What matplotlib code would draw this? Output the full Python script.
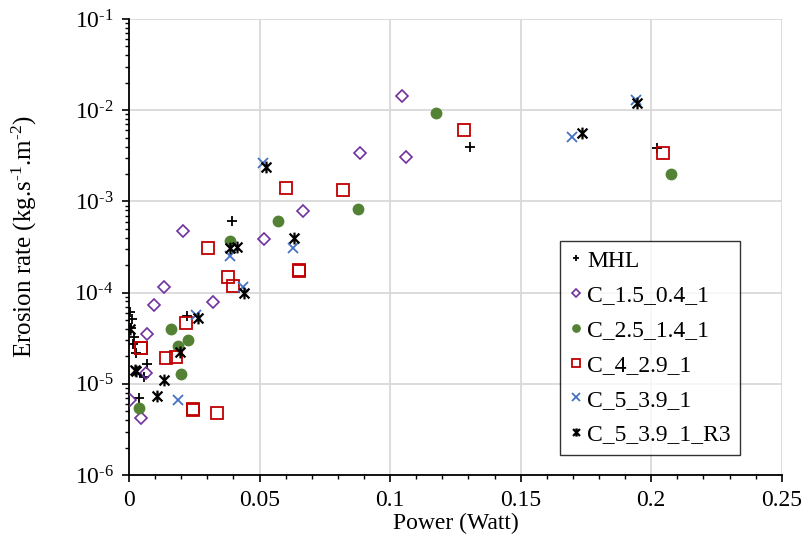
import numpy as np
import matplotlib
matplotlib.use('Agg')
import matplotlib.pyplot as plt
from matplotlib.path import Path
from matplotlib.ticker import MultipleLocator, FuncFormatter, LogLocator, NullFormatter

plt.rcParams['font.family'] = ['Liberation Serif', 'DejaVu Serif']
plt.rcParams['mathtext.fontset'] = 'custom'
plt.rcParams['mathtext.rm'] = 'Liberation Serif'
plt.rcParams['mathtext.it'] = 'Liberation Serif:italic'
plt.rcParams['mathtext.bf'] = 'Liberation Serif:bold'

# DATA
mhl_x = [0.0004, 0.0011, 0.0008, 0.0019, 0.0015, 0.0027, 0.0069, 0.0057, 0.0038, 0.0222, 0.0394, 0.1306, 0.2021]
mhl_y = [6.1e-5, 5.1e-5, 4.1e-5, 3.3e-5, 2.7e-5, 2.2e-5, 1.65e-5, 1.19e-5, 7.0e-6, 5.5e-5, 6.1e-4, 3.95e-3, 3.85e-3]

c15_x = [0.1045, 0.1060, 0.0884, 0.0666, 0.0517, 0.0207, 0.0320, 0.0135, 0.0095, 0.0068, 0.0064, 0.0004, 0.0046]
c15_y = [1.43e-2, 3.07e-3, 3.4e-3, 7.9e-4, 3.87e-4, 4.77e-4, 7.8e-5, 1.16e-4, 7.4e-5, 3.5e-5, 1.32e-5, 6.6e-6, 4.25e-6]

c25_x = [0.1175, 0.2075, 0.0878, 0.0572, 0.0387, 0.0161, 0.0225, 0.0189, 0.0199, 0.0039]
c25_y = [9.3e-3, 2.0e-3, 8.2e-4, 6.1e-4, 3.7e-4, 4.0e-5, 3.05e-5, 2.6e-5, 1.28e-5, 5.5e-6]

c4_x = [0.2044, 0.1283, 0.0818, 0.0600, 0.0650, 0.0652, 0.0302, 0.0378, 0.0399, 0.0218,
        0.0046, 0.0048, 0.0142, 0.0179, 0.0244, 0.0246, 0.0337]
c4_y = [3.4e-3, 6.1e-3, 1.32e-3, 1.41e-3, 1.75e-4, 1.72e-4, 3.1e-4, 1.47e-4, 1.19e-4, 4.6e-5,
        2.5e-5, 2.45e-5, 1.9e-5, 1.95e-5, 5.3e-6, 5.2e-6, 4.75e-6]

c5_x = [0.1941, 0.1695, 0.0512, 0.0629, 0.0387, 0.0437, 0.0257, 0.0189]
c5_y = [1.29e-2, 5.05e-3, 2.65e-3, 3.06e-4, 2.5e-4, 1.16e-4, 5.7e-5, 6.6e-6]

r3_x = [0.1944, 0.1733, 0.0524, 0.0632, 0.0387, 0.0412, 0.0440, 0.0264, 0.0195, 0.0135,
        0.0108, 0.0023, 0.0027, 0.0004]
r3_y = [1.19e-2, 5.6e-3, 2.4e-3, 4.0e-4, 3.1e-4, 3.2e-4, 9.97e-5, 5.3e-5, 2.23e-5, 1.1e-5,
        7.4e-6, 1.42e-5, 1.38e-5, 4.0e-5]

# excel style star marker: an x with a vertical bar through it
star = Path([(-1, -1), (1, 1), (-1, 1), (1, -1), (0, -1.2), (0, 1.2)],
            [Path.MOVETO, Path.LINETO, Path.MOVETO, Path.LINETO, Path.MOVETO, Path.LINETO])

fig = plt.figure(figsize=(8.06, 5.39), dpi=100)
ax = fig.add_axes([0.160, 0.1187, 0.810, 0.846])

ax.plot(mhl_x, mhl_y, ls='none', marker='+', ms=7, mew=1.3, color='black', label='MHL', zorder=3)
ax.plot(c15_x, c15_y, ls='none', marker='D', ms=6, mew=1.2, mfc='none', mec='#7030A0', label='C_1.5_0.4_1', zorder=3)
ax.plot(c25_x, c25_y, ls='none', marker='o', ms=7.5, color='#548235', label='C_2.5_1.4_1', zorder=3)
ax.plot(c4_x, c4_y, ls='none', marker='s', ms=8, mew=1.3, mfc='none', mec='#C00000', label='C_4_2.9_1', zorder=3)
ax.plot(c5_x, c5_y, ls='none', marker='x', ms=7.5, mew=1.3, color='#4472C4', label='C_5_3.9_1', zorder=3)
ax.plot(r3_x, r3_y, ls='none', marker=star, ms=8.5, mew=1.6, mfc='none', color='black', label='C_5_3.9_1_R3', zorder=4)

ax.set_yscale('log')
ax.set_xlim(0, 0.25)
ax.set_ylim(1e-6, 1e-1)

ax.xaxis.set_major_locator(MultipleLocator(0.05))
ax.xaxis.set_minor_locator(MultipleLocator(0.01))
ax.xaxis.set_major_formatter(FuncFormatter(lambda v, p: f'{v:g}'))
ax.yaxis.set_major_locator(LogLocator(base=10, numticks=10))
ax.yaxis.set_minor_locator(LogLocator(base=10, subs=np.arange(2, 10), numticks=50))
ax.yaxis.set_major_formatter(FuncFormatter(lambda v, p: '10$^{\\text{-%d}}$' % round(-np.log10(v))))
ax.yaxis.set_minor_formatter(NullFormatter())

ax.grid(True, which='major', color='#D9D9D9', lw=1.3, zorder=0)
ax.set_axisbelow(True)
for s in ['top', 'right']:
    ax.spines[s].set_visible(False)
for s in ['left', 'bottom']:
    ax.spines[s].set_linewidth(1.3)
    ax.spines[s].set_color('black')

ax.tick_params(which='major', direction='out', length=5, width=1.2, labelsize=17, pad=6)
ax.tick_params(which='minor', direction='out', length=3, width=1.0)

ax.set_xlabel('Power (Watt)', fontsize=17, labelpad=1)
ax.set_ylabel('Erosion rate (kg.s$^{\\text{-1}}$.m$^{\\text{-2}}$)', fontsize=18)
ax.yaxis.set_label_coords(-0.138, 0.522)

leg = ax.legend(loc='lower right', bbox_to_anchor=(0.936, 0.044), borderaxespad=0,
                fontsize=17, frameon=True, fancybox=False, edgecolor='black',
                handlelength=0.55, handletextpad=0.2, labelspacing=0.56, borderpad=0.4,
                markerscale=0.7)
leg.get_frame().set_linewidth(1.0)

fig.savefig('out.png', dpi=100)
